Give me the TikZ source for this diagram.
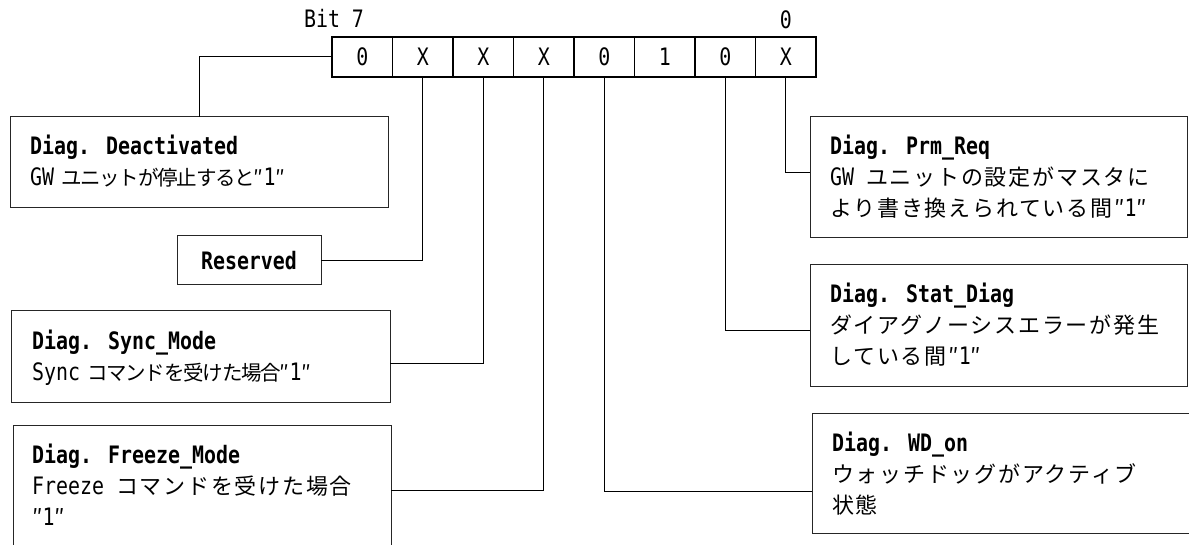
\documentclass[tikz,border=0pt]{standalone}
\usepackage{fontspec}
\newfontfamily\lat{DejaVu Sans Mono}[FakeStretch=0.83]
\newfontfamily\jpfont{Noto Sans CJK JP}[LetterSpace=-6]
\newfontfamily\jpwide{Noto Sans CJK JP}[LetterSpace=8]
\newcommand\J[1]{{\jpfont\fontsize{20.5}{24}\selectfont #1}}
\newcommand\Jw[1]{{\jpwide\fontsize{22}{24}\selectfont #1}}
\usetikzlibrary{calc}

\tikzset{
  bitcell/.style={draw, line width=1.6pt, minimum width=60.5pt, minimum height=40pt,
    inner sep=0pt, outer sep=0pt, anchor=west, font=\lat\fontsize{24}{24}\selectfont},
  infobox/.style={draw=black!85, line width=1pt, inner sep=0pt, outer sep=0pt, anchor=north west},
  head/.style={anchor=base west, inner sep=0pt, font=\lat\bfseries\fontsize{24}{24}\selectfont},
  body/.style={anchor=base west, inner sep=0pt, font=\lat\fontsize{24}{24}\selectfont},
  wire/.style={line width=1pt},
}

\begin{document}
\begin{tikzpicture}[x=1pt,y=-1pt]
\fill[white] (0,0) rectangle (1189,545);
\clip (0,0) rectangle (1189,545);

% register bits 7..0
\node[bitcell] (c1) at (332,57) {0};
\node[bitcell] (c2) at (c1.east) {X};
\node[bitcell] (c3) at (c2.east) {X};
\node[bitcell] (c4) at (c3.east) {X};
\node[bitcell] (c5) at (c4.east) {0};
\node[bitcell] (c6) at (c5.east) {1};
\node[bitcell] (c7) at (c6.east) {0};
\node[bitcell] (c8) at (c7.east) {X};
\node[body, anchor=base] (msb) at (334,28) {Bit 7};
\node[body, anchor=base] (lsb) at (c8.center |- 0,28.5) {0};

% description boxes, left side
\node[infobox, minimum width=378pt, minimum height=91pt] (deact) at (10,117) {};
\node[head] (deactH) at ($(deact.north west)+(20,38)$) {Diag. Deactivated};
\node[body] (deactT) at ($(deact.north west)+(20,69)$) {GW\hspace{7pt}\J{ユニットが停止すると″}1\J{″}};

\node[infobox, anchor=center, minimum width=144pt, minimum height=49pt,
  font=\lat\bfseries\fontsize{24}{24}\selectfont] (res) at (249,260.5) {Reserved};

\node[infobox, minimum width=379pt, minimum height=91pt] (sync) at (11,311) {};
\node[head] (syncH) at ($(sync.north west)+(21,38)$) {Diag. Sync\_Mode};
\node[body] (syncT) at ($(sync.north west)+(21,69)$) {Sync\hspace{7pt}\J{コマンドを受けた場合″}1\J{″}};

\node[infobox, minimum width=378pt, minimum height=140pt] (frz) at (13,425) {};
\node[head] (frzH) at ($(frz.north west)+(19,38)$) {Diag. Freeze\_Mode};
\node[body] (frzT1) at ($(frz.north west)+(19,69)$) {Freeze \Jw{コマンドを受けた場合}};
\node[body] (frzT2) at ($(frz.north west)+(19,100)$) {\Jw{″}1\Jw{″}};

% description boxes, right side
\node[infobox, minimum width=377pt, minimum height=121pt] (prm) at (810,117) {};
\node[head] (prmH) at ($(prm.north west)+(20,38)$) {Diag. Prm\_Req};
\node[body] (prmT1) at ($(prm.north west)+(20,69)$) {GW \Jw{ユニットの設定がマスタに}};
\node[body] (prmT2) at ($(prm.north west)+(20,100)$) {\Jw{より書き換えられている間″}1\Jw{″}};

\node[infobox, minimum width=377pt, minimum height=121pt] (stat) at (810,265) {};
\node[head] (statH) at ($(stat.north west)+(20,38)$) {Diag. Stat\_Diag};
\node[body] (statT1) at ($(stat.north west)+(20,69)$) {\Jw{ダイアグノーシスエラーが発生}};
\node[body] (statT2) at ($(stat.north west)+(20,100)$) {\Jw{している間″}1\Jw{″}};

\node[infobox, minimum width=390pt, minimum height=120pt] (wd) at (812,413) {};
\node[head] (wdH) at ($(wd.north west)+(20,38)$) {Diag. WD\_on};
\node[body] (wdT1) at ($(wd.north west)+(20,69)$) {\Jw{ウォッチドッグがアクティブ}};
\node[body] (wdT2) at ($(wd.north west)+(20,100)$) {\Jw{状態}};

% connectors from the bits to their descriptions
\draw[wire] (c1.west) -| (deact.north);
\draw[wire] (c2.south) |- (res.east);
\draw[wire] (c3.south) |- ([yshift=-6.5pt]sync.east);
\draw[wire] (c4.south) |- ([yshift=5pt]frz.east);
\draw[wire] (c5.south) |- ([yshift=-18pt]wd.west);
\draw[wire] (c7.south) |- ([yshift=-5.5pt]stat.west);
\draw[wire] (c8.south) |- ([yshift=4.5pt]prm.west);
\end{tikzpicture}
\end{document}
